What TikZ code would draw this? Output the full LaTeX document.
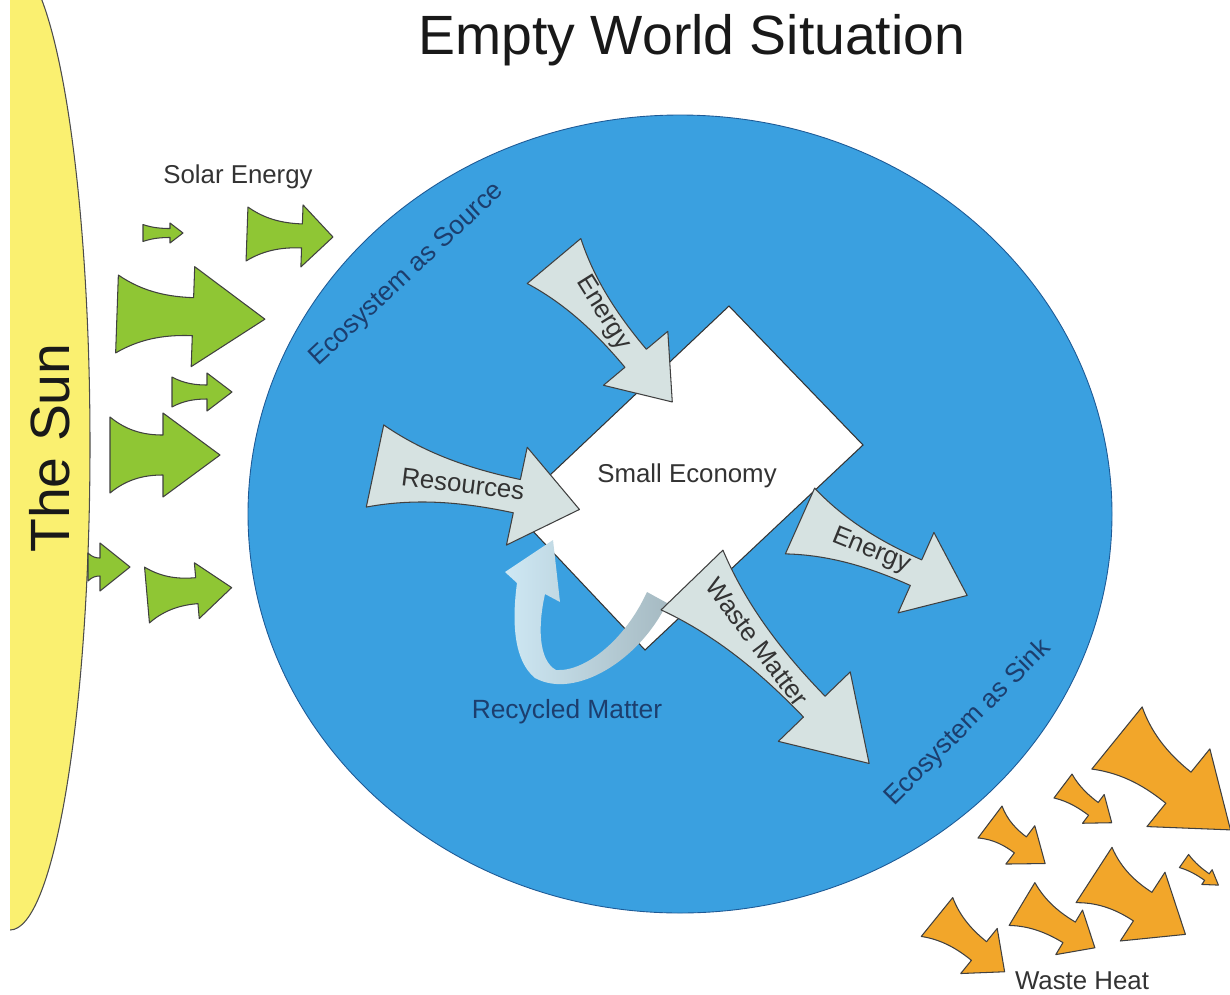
\documentclass[tikz,border=0pt]{standalone}
\usepackage{fontspec}
\setmainfont{Liberation Sans}
\usetikzlibrary{calc}

\definecolor{sunyellow}{RGB}{250,240,112}
\definecolor{solargreen}{RGB}{143,198,52}
\definecolor{ecoblue}{RGB}{58,160,224}
\definecolor{ecoline}{RGB}{30,90,150}
\definecolor{flowgray}{RGB}{214,226,225}
\definecolor{heatorange}{RGB}{242,166,42}
\definecolor{econavy}{RGB}{28,62,110}
\definecolor{recyclelight}{RGB}{206,232,244}
\definecolor{recyclegray}{RGB}{166,186,194}

\tikzset{solar/.style={fill=solargreen,draw=black!75,line width=0.6pt,line join=round},
flow/.style={fill=flowgray,draw=black!75,line width=0.6pt,line join=round},
heat/.style={fill=heatorange,draw=black!75,line width=0.6pt,line join=round},
recycle/.style={left color=recyclelight,right color=recyclegray,draw=none},
economy/.style={fill=white,draw=black!80,line width=0.6pt},
ecosystem/.style={fill=ecoblue,draw=ecoline,line width=0.5pt},
sun/.style={fill=sunyellow,draw=black!70,line width=0.6pt},
flow text/.style={font=\fontsize{14.7}{16}\selectfont,text=black!80,inner sep=0.05cm},
eco text/.style={font=\fontsize{15}{17}\selectfont,text=econavy,inner sep=0.05cm},
big text/.style={font=\fontsize{31.5}{36}\selectfont,text=black!90,inner sep=0.05cm}}

% fat arrow: [style]{tail}{angle}{length}{tail half}{shaft half}{head half}{head length}
\newcommand{\fatarrow}[8][flow]{%
\begin{scope}[shift={(#2)},rotate=#3]
\draw[#1] (0,#5) .. controls ({0.35*(#4-#8)},{#6+0.15*(#5-#6)}) and ({0.7*(#4-#8)},#6) .. ({#4-#8},#6)
  -- ({#4-#8},#7) -- (#4,0) -- ({#4-#8},{-#7}) -- ({#4-#8},{-#6})
  .. controls ({0.7*(#4-#8)},{-#6}) and ({0.35*(#4-#8)},{-#6-0.15*(#5-#6)}) .. (0,{-#5}) -- cycle;
\end{scope}}

\begin{document}
\begin{tikzpicture}[x=0.02cm,y=-0.02cm]
\useasboundingbox (0,0) rectangle (1230,994);

%% the sun, cut at the left margin
\begin{scope}
\clip (10,0) rectangle (1230,994);
\draw[sun] (10,445) ellipse [x radius=80,y radius=485];
\end{scope}

%% the ecosystem
\draw[ecosystem] (680,514) ellipse [x radius=432,y radius=399];

%% Coordinates of the economy corners.
\coordinate (e1) at (729,306);
\coordinate (e2) at (863,445);
\coordinate (e3) at (645,650);
\coordinate (e4) at (513,510);
\draw[economy] (e1) -- (e2) -- (e3) -- (e4) -- cycle;

%% Coordinates of arrow tails.
\coordinate (s1) at (143,233);
\coordinate (s2) at (247,234);
\coordinate (s3) at (117,314);
\coordinate (s4) at (172,392);
\coordinate (s5) at (110,455);
\coordinate (s6) at (88,567);
\coordinate (s7) at (147,595);
\coordinate (energyin) at (554,261);
\coordinate (resources) at (375,466);
\coordinate (energyout) at (800,521);
\coordinate (waste) at (692,580);
\coordinate (h1) at (1117,738);
\coordinate (h2) at (1063,786);
\coordinate (h3) at (990,822);
\coordinate (h4) at (1184,861);
\coordinate (h5) at (1094,875);
\coordinate (h6) at (1022,904);
\coordinate (h7) at (937,917);

%% solar energy
\fatarrow[solar]{s1}{0}{40}{8.5}{4.5}{10}{13}
\fatarrow[solar]{s2}{-2}{86}{27}{12}{31}{31}
\fatarrow[solar]{s3}{-2}{148}{39}{19}{50}{72}
\fatarrow[solar]{s4}{0}{60}{15}{7}{19}{25}
\fatarrow[solar]{s5}{0}{110}{38}{20}{42}{57}
\fatarrow[solar]{s6}{0}{42}{14}{9}{24}{30}
\fatarrow[solar]{s7}{5}{85}{28}{13}{28}{35}

%% recycled matter
\draw[recycle] (667,603) .. controls (640,660) and (575,700) .. (535,678)
  .. controls (513,660) and (512,620) .. (517,583) -- (505,572) -- (553,540) -- (560,602) -- (545,594)
  .. controls (538,625) and (538,660) .. (556,670) .. controls (585,672) and (625,640) .. (647,592) -- cycle;

%% flows through the economy
\fatarrow{energyin}{-50}{184}{35}{14}{42}{57}
\fatarrow{resources}{-12}{209}{42}{17}{50}{64}
\fatarrow{energyout}{-24}{183}{36}{14}{44}{56}
\fatarrow{waste}{-46}{255}{43}{15}{50}{79}

%% waste heat
\fatarrow[heat]{h1}{-39}{146}{40}{20}{50}{67}
\fatarrow[heat]{h2}{-37}{61}{15}{8}{18}{23}
\fatarrow[heat]{h3}{-37}{69}{20}{10}{24}{31}
\fatarrow[heat]{h4}{-35}{42}{8}{4}{9}{14}
\fatarrow[heat]{h5}{-33}{109}{33}{17}{41}{51}
\fatarrow[heat]{h6}{-31}{85}{25}{12}{26}{30}
\fatarrow[heat]{h7}{-39}{87}{25}{12}{29}{33}

%% labels
\node[big text] (title) at (692,40) {Empty World Situation};
\node[big text,rotate=90] (sunlabel) at (50,448) {The Sun};
\node[flow text] (solarlabel) at (238,177) {Solar Energy};
\node[flow text] (economylabel) at (687,476) {Small Economy};
\node[flow text,rotate=-58] (energyinlabel) at (603,313) {Energy};
\node[flow text,rotate=-7] (resourceslabel) at (463,484) {Resources};
\node[flow text,rotate=-22] (energyoutlabel) at (871,551) {Energy};
\node[flow text,rotate=-53] (wastelabel) at (757,642) {Waste Matter};
\node[eco text] (recycledlabel) at (567,712) {Recycled Matter};
\node[eco text,rotate=43] (sourcelabel) at (407,275) {Ecosystem as Source};
\node[eco text,rotate=45] (sinklabel) at (968,723) {Ecosystem as Sink};
\node[flow text] (heatlabel) at (1082,981) {Waste Heat};

\end{tikzpicture}
\end{document}
